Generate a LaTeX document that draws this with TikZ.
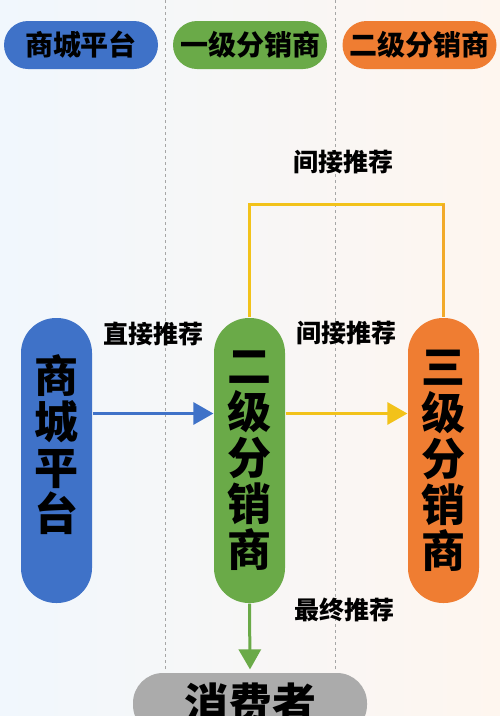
\documentclass[tikz,border=0pt]{standalone}
\usepackage{fontspec}
\setmainfont{Noto Sans CJK SC}
\usetikzlibrary{arrows.meta,positioning}
\definecolor{platblue}{HTML}{3F72C8}
\definecolor{lvgreen}{HTML}{6AAA48}
\definecolor{lvorange}{HTML}{EF7D32}
\definecolor{recyellow}{HTML}{F2C21A}
\definecolor{recamber}{HTML}{F2AA2A}
\definecolor{consgray}{HTML}{ABABAB}
\definecolor{bgleft}{HTML}{F1F7FD}
\definecolor{bgmid}{HTML}{FBFCF5}
\definecolor{bgright}{HTML}{FEF6EF}

\begin{document}
\begin{tikzpicture}[x=1pt,y=-1pt,very thick,
  tab/.style={rounded corners=24pt,minimum width=154pt,minimum height=48pt,inner sep=0pt,font=\fontsize{28}{30}\selectfont\bfseries},
  col/.style={rounded corners=35pt,minimum width=71pt,minimum height=285pt,inner sep=0pt,align=center,font=\fontsize{44}{46}\selectfont\bfseries},
  rec/.style={font=\fontsize{25}{27}\selectfont\bfseries},
  flow/.style={line width=3pt,-{Triangle[length=20pt,width=22pt]}}]

\useasboundingbox(0,0)rectangle(500,716);
\clip(0,0)rectangle(500,716);
\shade[left color=bgleft,middle color=bgmid,right color=bgright](0,0)rectangle(500,716);

% lanes
\draw[gray!70,thin,dashed](165,0)--(165,670);
\draw[gray!70,thin,dashed](335,0)--(335,670);

% header
\node[tab,fill=platblue](hplat)at(81,45){商城平台};
\node[tab,fill=lvgreen](hlv1)at(250,45){一级分销商};
\node[tab,fill=lvorange](hlv2)at(419.5,45){二级分销商};

% columns
\node[col,fill=platblue](plat)at(56.5,460.5){商\\城\\平\\台\\[-10pt]\mbox{}};
\node[col,fill=lvgreen](lv2)at(249.5,460.5){二\\级\\分\\销\\商};
\node[col,fill=lvorange](lv3)at(443.5,460.5){三\\级\\分\\销\\商};
\node[rounded corners=30pt,fill=consgray,minimum width=234pt,minimum height=62pt,font=\fontsize{44}{46}\selectfont\bfseries](cons)at(250,704){消费者};

% flows
\draw[flow,platblue]([yshift=47pt]plat.east)--([yshift=47pt]lv2.west)
  node[rec,black,pos=0.5,yshift=80pt]{直接推荐};
\draw[flow,recyellow]([yshift=47pt]lv2.east)--([yshift=47pt]lv3.west)
  node[rec,black,pos=0.5,yshift=80pt]{间接推荐};
\draw[recyellow,line width=3pt](lv2.north)--++(0,-113)coordinate(bend)-|coordinate(corner)(lv3.north);
\draw[recamber,line width=3pt](lv3.north|-bend)--(lv3.north);
\node[rec](top)at(343,162){间接推荐};
\draw[flow,lvgreen](lv2.south)--([yshift=3pt]cons.north);
\node[rec](fin)at(344,610){最终推荐};

\end{tikzpicture}
\end{document}
